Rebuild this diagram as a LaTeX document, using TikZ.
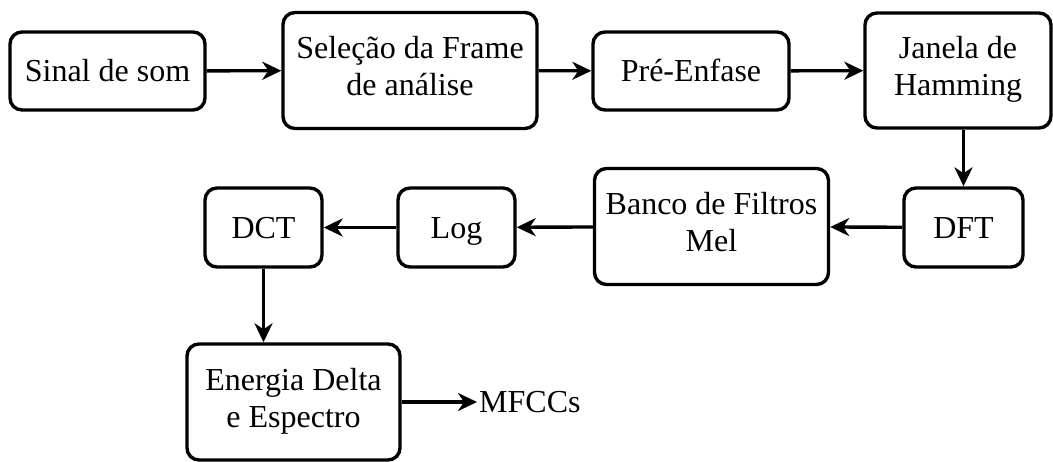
\documentclass[tikz,border=0pt]{standalone}
\usepackage{fontspec}
\setmainfont{Liberation Serif}
\usetikzlibrary{arrows.meta}
\newcommand\mystrut{\rule[-9pt]{0pt}{39pt}}
\begin{document}
\begin{tikzpicture}[x=1pt,y=-1pt,
  box/.style={draw, line width=3.4pt, rounded corners=12pt, align=center, inner sep=0pt,
    font=\fontsize{32}{37}\selectfont,
    execute at begin node=\mystrut, execute at end node=\mystrut},
  conn/.style={line width=3.4pt, -{Stealth[length=19pt,width=18pt,inset=6pt]}}]
\useasboundingbox (0,0) rectangle (1053,461);
\node[box, minimum width=195pt, minimum height=78pt] (sinal) at (107.5,71) {Sinal de som};
\node[box, minimum width=254pt, minimum height=116pt] (selecao) at (410,70.5) {Seleção da Frame\\de análise};
\node[box, minimum width=196pt, minimum height=78pt] (pre) at (691,71) {Pré-Enfase};
\node[box, minimum width=186pt, minimum height=115pt] (janela) at (958,70.5) {Janela de\\Hamming};
\node[box, minimum width=119pt, minimum height=79pt] (dft) at (963.5,227.5) {DFT};
\node[box, minimum width=234pt, minimum height=116pt] (banco) at (711.5,226.5) {Banco de Filtros\\Mel};
\node[box, minimum width=117pt, minimum height=79pt] (log) at (456.5,227.5) {Log};
\node[box, minimum width=117pt, minimum height=79pt] (dct) at (263.5,227.5) {DCT};
\node[box, minimum width=213pt, minimum height=116pt] (energia) at (293.5,402) {Energia Delta\\e Espectro};
\node[anchor=west, inner sep=2pt, font=\fontsize{32}{37}\selectfont] (mfccs) at (477,402) {\mystrut MFCCs};
\draw[conn] (sinal) -- (selecao);
\draw[conn] (selecao) -- (pre);
\draw[conn] (pre) -- (janela);
\draw[conn] (dft.north |- janela.south) -- (dft.north);
\draw[conn] (dft) -- (banco);
\draw[conn] (banco) -- (log);
\draw[conn] (log) -- (dct);
\draw[conn] (dct.south) -- (dct.south |- energia.north);
\draw[conn] (energia.east) -- (mfccs.west);
\end{tikzpicture}
\end{document}
